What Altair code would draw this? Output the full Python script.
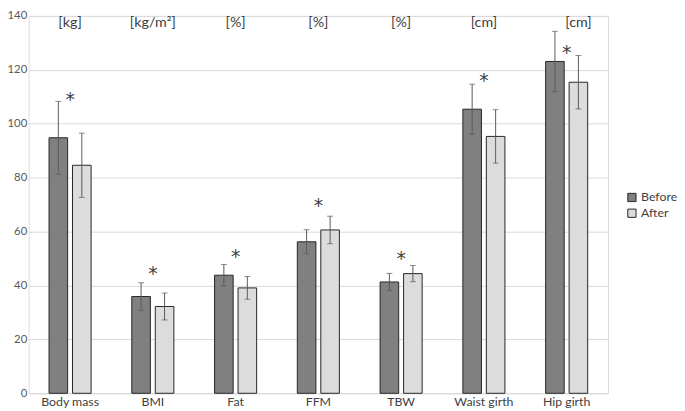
import altair as alt
import pandas as pd

categories = ["Body mass", "BMI", "Fat", "FFM", "TBW", "Waist girth", "Hip girth"]
units = ["[kg]", "[kg/m²]", "[%]", "[%]", "[%]", "[cm]", "[cm]"]
before_mean = [94.8, 35.9, 43.8, 56.2, 41.3, 105.4, 123.1]
before_sd = [13.5, 5.1, 4.0, 4.5, 3.2, 9.3, 11.2]
after_mean = [84.6, 32.2, 39.1, 60.6, 44.4, 95.3, 115.4]
after_sd = [11.9, 5.0, 4.2, 5.1, 3.0, 9.9, 9.9]
star_y = [110.6, 45.9, 52.3, 71.2, 51.6, 117.7, 128.0]
unit_y = [137.5] * 7
series = ["Before", "After"]

rows = []
for i, c in enumerate(categories):
    rows.append({"cat": c, "series": "Before", "mean": before_mean[i],
                 "lo": before_mean[i] - before_sd[i], "hi": before_mean[i] + before_sd[i]})
    rows.append({"cat": c, "series": "After", "mean": after_mean[i],
                 "lo": after_mean[i] - after_sd[i], "hi": after_mean[i] + after_sd[i]})
df = pd.DataFrame(rows)
ann = pd.DataFrame({"cat": categories, "unit": units, "star": star_y, "uy": unit_y})

FONT = "Lato"
xs = alt.Scale(domain=categories, paddingInner=0.4916, paddingOuter=0.2458)
ys = alt.Scale(domain=[0, 140], nice=False)
xo = alt.Scale(domain=series, paddingInner=0.2083, paddingOuter=0)

X = alt.X("cat:N", scale=xs, sort=categories,
          axis=alt.Axis(title=None, labelAngle=0, ticks=False, domain=False,
                        labelFontSize=12.5, labelColor="#404040", labelPadding=2, labelFont=FONT))
Y = alt.Y("mean:Q", scale=ys,
          axis=alt.Axis(title=None, values=[0, 20, 40, 60, 80, 100, 120, 140], ticks=False,
                        domain=False, gridColor="#d9d9d9", labelFontSize=11.5, labelColor="#595959",
                        labelPadding=2, labelFont=FONT))
XO = alt.XOffset("series:N", scale=xo, sort=series)

bars = alt.Chart(df).mark_bar(stroke="#262626", strokeWidth=1).encode(
    x=X, y=Y, xOffset=XO,
    fill=alt.Fill("series:N", sort=series,
                  scale=alt.Scale(domain=series, range=["#808080", "#dcdcdc"]),
                  legend=alt.Legend(title=None, orient="none", legendX=606, legendY=178,
                                    symbolType="square", symbolSize=70,
                                    symbolStrokeColor="#262626", symbolStrokeWidth=1,
                                    labelFontSize=12.5, labelColor="#404040", labelFont=FONT,
                                    rowPadding=3, labelOffset=3)),
)

rules = alt.Chart(df).mark_rule(color="#595959", strokeWidth=1).encode(
    x=alt.X("cat:N", scale=xs, sort=categories), xOffset=XO,
    y=alt.Y("lo:Q", scale=ys), y2="hi:Q")
cap_lo = alt.Chart(df).mark_tick(color="#595959", thickness=1, size=6).encode(
    x=alt.X("cat:N", scale=xs, sort=categories), xOffset=XO, y=alt.Y("lo:Q", scale=ys))
cap_hi = alt.Chart(df).mark_tick(color="#595959", thickness=1, size=6).encode(
    x=alt.X("cat:N", scale=xs, sort=categories), xOffset=XO, y=alt.Y("hi:Q", scale=ys))

stars = alt.Chart(ann).mark_text(text="*", fontSize=19, font="DejaVu Sans", color="#404040",
                                 baseline="middle", dy=5).encode(
    x=alt.X("cat:N", scale=xs, sort=categories), y=alt.Y("star:Q", scale=ys))

unit_main = alt.Chart(ann).transform_filter(alt.datum.cat != "Hip girth").mark_text(
    fontSize=14.5, font=FONT, color="#404040", baseline="middle").encode(
    x=alt.X("cat:N", scale=xs, sort=categories), y=alt.Y("uy:Q", scale=ys), text="unit:N")
unit_hip = alt.Chart(ann).transform_filter(alt.datum.cat == "Hip girth").mark_text(
    fontSize=14.5, font=FONT, color="#404040", baseline="middle", dx=12).encode(
    x=alt.X("cat:N", scale=xs, sort=categories), y=alt.Y("uy:Q", scale=ys), text="unit:N")

chart = alt.layer(bars, rules, cap_lo, cap_hi, stars, unit_main, unit_hip).properties(
    width=588, height=383,
    autosize=alt.AutoSizeParams(type="none"),
    padding={"left": 21, "top": 5, "right": 70, "bottom": 20},
).configure_view(stroke=None).configure(background="white")

chart.save("out.html", embed_options={"renderer": "svg", "actions": False})
